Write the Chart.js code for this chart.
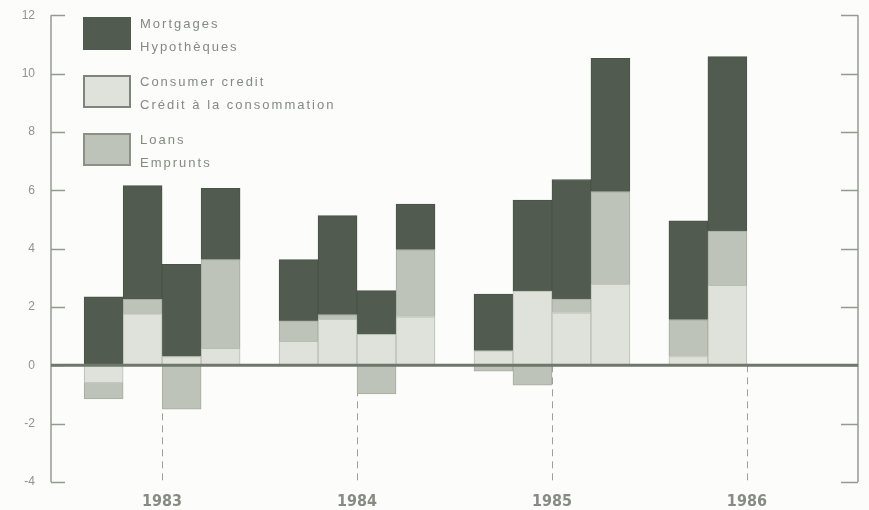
<!DOCTYPE html>
<html>
<head>
<meta charset="utf-8">
<script src="https://cdn.jsdelivr.net/npm/chart.js@4.4.1/dist/chart.umd.min.js"></script>
<style>
  html, body { margin: 0; padding: 0; background: #fcfcfa; }
  canvas { display: block; }
</style>
</head>
<body>
<canvas id="chart" width="869" height="510"></canvas>
<script>
// quarterly change, 1983 Q1 .. 1986 Q2
const years = [1983, 1984, 1985, 1986];
const quarterYear = [1983, 1983, 1983, 1983, 1984, 1984, 1984, 1984, 1985, 1985, 1985, 1985, 1986, 1986];
const quarterNum = [1, 2, 3, 4, 1, 2, 3, 4, 1, 2, 3, 4, 1, 2];

const consumerCredit = [-0.6, 1.76, 0.3, 0.58, 0.82, 1.58, 1.06, 1.66, 0.5, 2.54, 1.8, 2.78, 0.3, 2.74];
const loans = [-0.55, 0.5, -1.5, 3.04, 0.7, 0.15, -0.98, 2.3, -0.2, -0.68, 0.47, 3.17, 1.26, 1.86];
const mortgages = [2.35, 3.9, 3.16, 2.45, 2.1, 3.4, 1.5, 1.57, 1.94, 3.12, 4.1, 4.57, 3.39, 5.98];

const yTicks = [-4, -2, 0, 2, 4, 6, 8, 10, 12];
const legendLabels = [
  ["Mortgages", "Hypothèques"],
  ["Consumer credit", "Crédit à la consommation"],
  ["Loans", "Emprunts"],
];

const DARK = "#525b4f";
const LIGHT = "#dfe2da";
const MID = "#bec3ba";
const TEXT = "#858a81";

// each year takes 5 slots: 4 quarters and a gap
const slot = 0.2;
function pos(i) {
  return quarterYear[i] + (quarterNum[i] - 2.5) * slot;
}
function points(values) {
  return values.map((v, i) => ({ x: pos(i), y: v }));
}

const framePlugin = {
  id: "frame",
  beforeDatasetsDraw(chart) {
    const { ctx, chartArea: a, scales } = chart;
    const x = scales.x, y = scales.y;
    const y0 = y.getPixelForValue(0);
    ctx.save();
    ctx.strokeStyle = "#9da197";
    ctx.lineWidth = 1;
    ctx.setLineDash([7, 5]);
    years.forEach((yr) => {
      const px = Math.round(x.getPixelForValue(yr)) + 0.5;
      ctx.beginPath();
      ctx.moveTo(px, y0);
      ctx.lineTo(px, a.bottom);
      ctx.stroke();
    });
    ctx.setLineDash([]);
    ctx.strokeStyle = "#959a91";
    ctx.lineWidth = 1.5;
    ctx.beginPath();
    ctx.moveTo(a.left, a.top);
    ctx.lineTo(a.left, a.bottom);
    ctx.moveTo(a.right, a.top);
    ctx.lineTo(a.right, a.bottom);
    yTicks.forEach((t) => {
      const py = Math.round(y.getPixelForValue(t)) + 0.5;
      ctx.moveTo(a.left, py);
      ctx.lineTo(a.left + 14, py);
      ctx.moveTo(a.right - 17, py);
      ctx.lineTo(a.right, py);
    });
    ctx.stroke();
    ctx.restore();
  },
  afterDatasetsDraw(chart) {
    const { ctx, chartArea: a, scales } = chart;
    const y0 = scales.y.getPixelForValue(0);
    ctx.save();
    ctx.strokeStyle = "#6f766b";
    ctx.lineWidth = 3;
    ctx.beginPath();
    ctx.moveTo(a.left, y0);
    ctx.lineTo(a.right, y0);
    ctx.stroke();

    // legend, top left
    const fills = [DARK, LIGHT, MID];
    const borders = [DARK, "#7f857b", "#8c9188"];
    ctx.font = '13px "Liberation Sans", Arial, sans-serif';
    ctx.letterSpacing = "2px";
    legendLabels.forEach((lines, i) => {
      const top = 17 + i * 58;
      ctx.fillStyle = fills[i];
      ctx.fillRect(83, top, 48, 33);
      ctx.strokeStyle = borders[i];
      ctx.lineWidth = 2;
      ctx.strokeRect(84, top + 1, 46, 31);
      ctx.fillStyle = TEXT;
      ctx.textBaseline = "alphabetic";
      ctx.fillText(lines[0], 140, top + 11);
      ctx.fillText(lines[1], 140, top + 34);
    });
    ctx.restore();
  },
};

const ctx = document.getElementById("chart").getContext("2d");
new Chart(ctx, {
  type: "bar",
  data: {
    datasets: [
      {
        label: "Consumer credit / Crédit à la consommation",
        data: points(consumerCredit),
        backgroundColor: LIGHT,
        borderColor: "#b9beb4",
        borderWidth: 1,
      },
      {
        label: "Loans / Emprunts",
        data: points(loans),
        backgroundColor: MID,
        borderColor: "#a6ab9f",
        borderWidth: 1,
      },
      {
        label: "Mortgages / Hypothèques",
        data: points(mortgages),
        backgroundColor: DARK,
        borderColor: "#4a5347",
        borderWidth: 1,
      },
    ],
  },
  options: {
    responsive: false,
    animation: false,
    events: [],
    barPercentage: 1,
    categoryPercentage: 1,
    layout: { padding: { top: 10, right: 11, left: 0, bottom: 0 } },
    plugins: {
      legend: { display: false },
      tooltip: { enabled: false },
    },
    scales: {
      x: {
        type: "linear",
        stacked: true,
        offset: false,
        min: 1982.43,
        max: 1986.57,
        grid: { display: false },
        border: { display: false },
        afterBuildTicks: (scale) => {
          scale.ticks = years.map((v) => ({ value: v }));
        },
        afterFit: (scale) => {
          scale.height = 28;
        },
        ticks: {
          padding: 2,
          color: "#878c83",
          font: {
            family: '"Liberation Sans Narrow", "DejaVu Sans Condensed", sans-serif',
            size: 16,
            weight: "bold",
          },
          callback: (v) => String(v),
        },
      },
      y: {
        stacked: true,
        min: -4,
        max: 12,
        grid: { display: false },
        border: { display: false },
        afterBuildTicks: (scale) => {
          scale.ticks = yTicks.map((v) => ({ value: v }));
        },
        afterFit: (scale) => {
          scale.width = 51;
        },
        ticks: {
          padding: 8,
          color: "#90958c",
          font: { family: '"Liberation Sans", Arial, sans-serif', size: 12 },
        },
      },
    },
  },
  plugins: [framePlugin],
});
</script>
</body>
</html>
